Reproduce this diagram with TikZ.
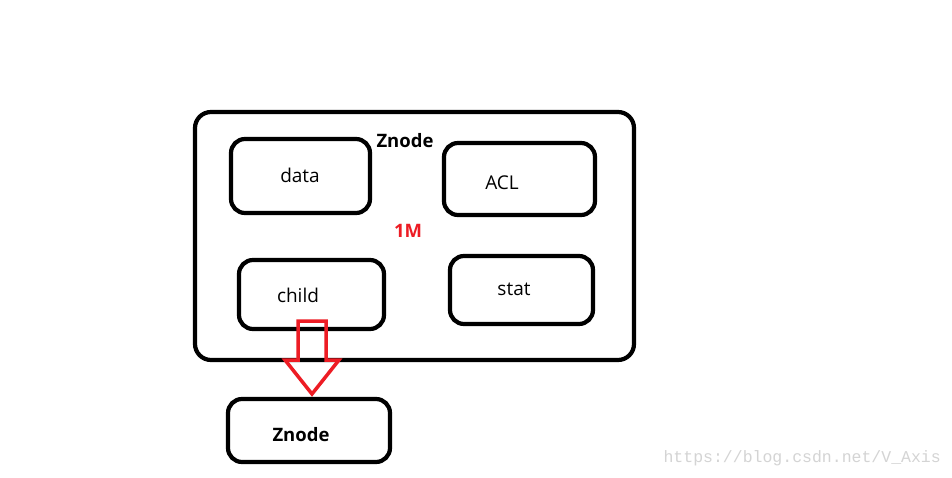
\documentclass[tikz,border=0pt]{standalone}
\usepackage{fontspec}
\setmainfont{Open Sans}
\newfontfamily\wmfont{Liberation Mono}
\begin{document}
\begin{tikzpicture}[x=1pt,y=-1pt,
  boxst/.style={draw=black,line width=4.2pt,rounded corners=14pt},
  lbl/.style={font=\fontsize{19}{22}\selectfont,inner sep=0pt},
  blbl/.style={font=\fontsize{18.5}{22}\selectfont\bfseries,inner sep=0pt}]
\useasboundingbox[fill=white] (0,0) rectangle (952,478);
% outer box
\draw[boxst,rounded corners=16pt] (195,112) rectangle (634,360);
\node[blbl] (zt) at (405,141) {Znode};
\node[blbl,text={rgb,255:red,237;green,28;blue,36}] (m) at (408,231) {1M};
% inner boxes
\draw[boxst] (231,139) rectangle (370,213);
\node[lbl] (data) at (300,175) {data};
\draw[boxst] (444,143) rectangle (595,215);
\node[lbl] (acl) at (502,183) {ACL};
\draw[boxst] (239,260) rectangle (384,329);
\node[lbl] (child) at (298,295) {child};
\draw[boxst] (450,256) rectangle (593,324);
\node[lbl] (stat) at (514,289) {stat};
% bottom znode
\draw[boxst] (228,399) rectangle (390,462);
\node[blbl] (zb) at (301,435) {Znode};
% red arrow
\draw[draw={rgb,255:red,237;green,28;blue,36},line width=3.5pt,line join=miter]
  (298,321) -- (326,321) -- (326,360) -- (339,360) -- (312,394) -- (285,360) -- (298,360) -- cycle;
% watermark
\node[font=\wmfont\fontsize{16.5}{19}\selectfont,text=black!17,anchor=east,inner sep=0pt] (wm) at (941,458) {https://blog.csdn.net/V\_Axis};
\end{tikzpicture}
\end{document}
